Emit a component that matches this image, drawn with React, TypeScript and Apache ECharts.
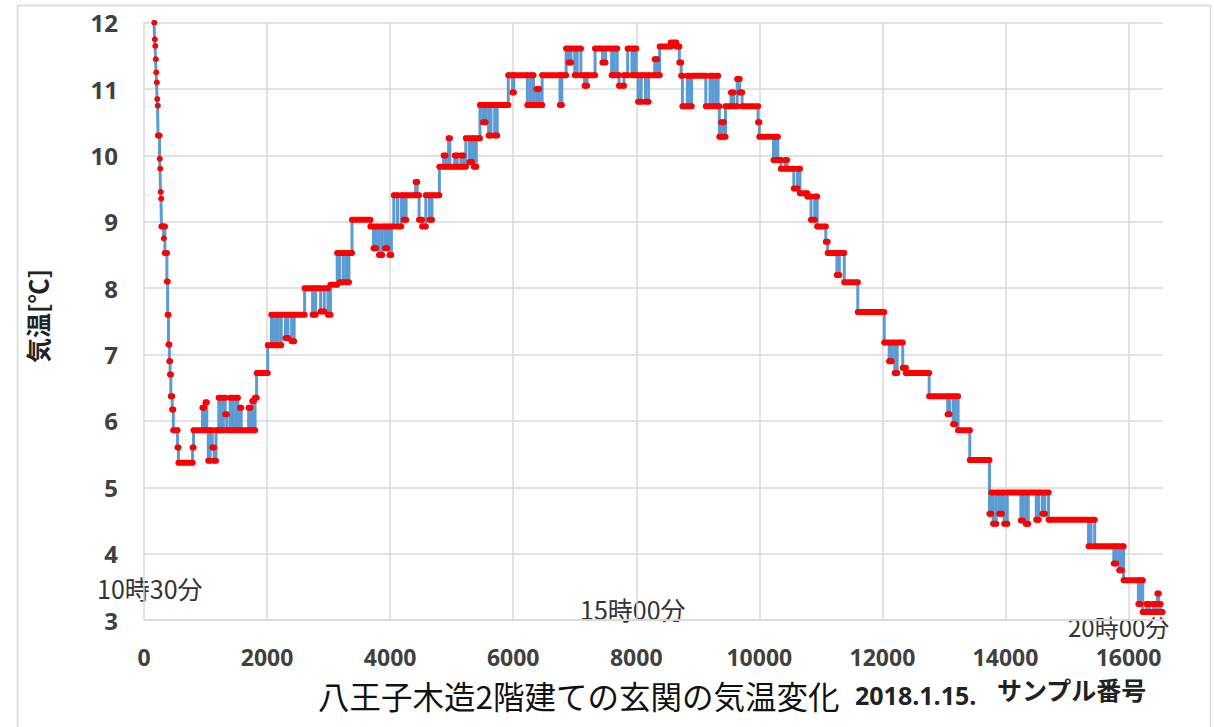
import React, { useEffect, useRef } from "react";
import * as echarts from "echarts";

// x axis (sample number) ticks and y axis (temperature) range
const xGridTicks = [0, 2000, 4000, 6000, 8000, 10000, 12000, 14000, 16000];
const xMax = 16560;
const yMin = 3;
const yMax = 12;
const lastSample = 16553;

// step readings: [sample number where the reading begins, temperature ℃]
const tempSteps: [number, number][] = [
  [163, 12.0], [172, 11.75], [180, 11.65], [188, 11.45], [196, 11.25], [204, 11.1],
  [212, 10.85], [220, 10.75], [228, 10.3], [252, 9.95], [260, 9.8], [268, 9.45],
  [276, 9.35], [284, 8.93], [318, 8.75], [326, 8.93], [340, 8.53], [372, 8.1],
  [384, 7.6], [398, 7.15], [412, 6.9], [424, 6.7], [436, 6.37], [458, 6.17],
  [476, 5.86], [545, 5.6], [560, 5.37], [790, 5.6], [805, 5.86], [950, 6.2],
  [975, 5.86], [1000, 6.28], [1020, 5.86], [1045, 5.4], [1075, 5.86], [1110, 5.6],
  [1140, 5.4], [1170, 5.86], [1215, 6.35], [1245, 5.86], [1290, 6.35], [1320, 6.1],
  [1345, 5.86], [1400, 6.35], [1440, 5.86], [1490, 6.35], [1525, 5.86], [1560, 6.2],
  [1580, 5.86], [1700, 6.2], [1730, 5.86], [1760, 6.3], [1785, 5.86], [1805, 6.35],
  [1830, 6.72], [2010, 7.14], [2070, 7.6], [2100, 7.14], [2150, 7.6], [2180, 7.14],
  [2230, 7.6], [2300, 7.25], [2340, 7.6], [2400, 7.2], [2440, 7.6], [2610, 8.0],
  [2740, 7.6], [2790, 8.0], [2870, 7.65], [2930, 8.0], [2990, 7.6], [3030, 8.05],
  [3140, 8.53], [3180, 8.09], [3240, 8.53], [3290, 8.09], [3330, 8.53], [3380, 9.03],
  [3680, 8.93], [3730, 8.6], [3770, 8.93], [3820, 8.5], [3870, 8.93], [3920, 8.6],
  [3950, 8.93], [3990, 8.5], [4020, 8.93], [4060, 9.4], [4120, 8.93], [4180, 9.4],
  [4220, 9.03], [4260, 9.4], [4415, 9.6], [4440, 9.4], [4470, 9.03], [4520, 8.93],
  [4580, 9.4], [4640, 9.03], [4680, 9.4], [4800, 9.83], [4870, 10.0], [4900, 9.83],
  [4950, 10.26], [4970, 9.83], [5050, 10.0], [5090, 9.83], [5150, 10.0], [5190, 9.83],
  [5230, 10.26], [5290, 9.9], [5330, 10.26], [5360, 9.83], [5400, 10.26], [5460, 10.76],
  [5510, 10.5], [5550, 10.76], [5600, 10.3], [5640, 10.76], [5700, 10.3], [5740, 10.76],
  [5920, 11.21], [5990, 10.95], [6010, 11.21], [6230, 10.76], [6280, 11.21], [6330, 10.76],
  [6380, 11.0], [6420, 10.76], [6470, 11.21], [6760, 10.76], [6790, 11.21], [6860, 11.61],
  [6900, 11.4], [6940, 11.61], [7000, 11.21], [7040, 11.61], [7100, 11.21], [7160, 11.05],
  [7200, 11.21], [7330, 11.61], [7450, 11.4], [7500, 11.61], [7600, 11.21], [7640, 11.61],
  [7690, 11.21], [7720, 11.05], [7800, 11.21], [7860, 11.61], [7930, 11.21], [7960, 11.61],
  [8000, 11.21], [8030, 10.81], [8080, 11.21], [8150, 10.81], [8200, 11.21], [8300, 11.45],
  [8340, 11.21], [8380, 11.64], [8560, 11.7], [8650, 11.64], [8700, 11.4], [8730, 11.2],
  [8750, 10.74], [8830, 11.2], [8860, 10.74], [8900, 11.2], [9130, 10.74], [9200, 11.2],
  [9250, 10.74], [9300, 11.2], [9330, 10.74], [9350, 10.28], [9380, 10.5], [9420, 10.28],
  [9450, 10.74], [9540, 10.95], [9580, 10.74], [9640, 11.15], [9680, 10.95], [9720, 10.74],
  [9980, 10.5], [10000, 10.28], [10230, 9.93], [10260, 10.28], [10300, 9.93], [10350, 9.8],
  [10420, 9.93], [10450, 9.8], [10560, 9.5], [10620, 9.8], [10660, 9.43], [10780, 9.38],
  [10840, 9.03], [10900, 9.38], [10940, 8.93], [11080, 8.7], [11110, 8.53], [11260, 8.2],
  [11300, 8.53], [11380, 8.09], [11600, 7.64], [12030, 7.18], [12110, 6.9], [12150, 7.18],
  [12200, 6.72], [12240, 7.18], [12330, 6.8], [12380, 6.72], [12760, 6.37], [13060, 6.1],
  [13090, 6.37], [13150, 5.95], [13180, 6.37], [13230, 5.86], [13420, 5.41], [13740, 4.6],
  [13770, 4.92], [13800, 4.45], [13850, 4.92], [13900, 4.6], [13940, 4.92], [13980, 4.45],
  [14030, 4.92], [14250, 4.5], [14280, 4.92], [14330, 4.45], [14370, 4.92], [14500, 4.51],
  [14540, 4.92], [14600, 4.6], [14640, 4.92], [14700, 4.51], [15350, 4.11], [15390, 4.51],
  [15450, 4.11], [15760, 3.85], [15800, 4.11], [15850, 3.75], [15890, 4.11], [15920, 3.6],
  [16160, 3.24], [16190, 3.6], [16230, 3.12], [16290, 3.24], [16340, 3.12], [16400, 3.24],
  [16440, 3.12], [16470, 3.4], [16490, 3.24], [16520, 3.12],
];

const titleText = "八王子木造2階建ての玄関の気温変化";
const dateText = "2018.1.15.";
const xName = "サンプル番号";
const yName = "気温[℃]";
const timeNotes = ["10時30分", "15時00分", "20時00分"];

const JP = '"Noto Sans CJK JP", sans-serif';
const NUM = '"Open Sans", "Liberation Sans", sans-serif';

export default function App() {
  const ref = useRef<HTMLDivElement>(null);
  useEffect(() => {
    if (!ref.current) return;
    const chart = echarts.init(ref.current, null, { renderer: "svg" });

    const blueData: any[] = tempSteps.map((p) => [p[0], p[1]]);
    blueData.push([lastSample, tempSteps[tempSteps.length - 1][1]]);

    const redData: any[] = [];
    tempSteps.forEach((p, i) => {
      const next = i + 1 < tempSteps.length ? tempSteps[i + 1][0] : lastSample;
      redData.push([p[0], p[1]]);
      redData.push([next, p[1]]);
      redData.push([next, "-"]);
    });

    const option: any = {
      animation: false,
      backgroundColor: "#ffffff",
      grid: { left: 144, top: 22.7, right: 51, bottom: 107, containLabel: false },
      xAxis: {
        type: "value",
        min: 0,
        max: xMax,
        interval: 2000,
        axisLine: { show: true, lineStyle: { color: "#d9d9d9", width: 1.5 } },
        axisTick: { show: false },
        splitLine: { show: false },
        axisLabel: {
          margin: 27,
          color: "#404040",
          fontFamily: NUM,
          fontWeight: "bold",
          fontSize: 23,
          lineHeight: 20,
          formatter: (v: number) => (xGridTicks.indexOf(v) >= 0 ? String(v) : ""),
        },
      },
      yAxis: {
        type: "value",
        min: yMin,
        max: yMax,
        interval: 1,
        axisLine: { show: false },
        axisTick: { show: false },
        splitLine: { show: true, lineStyle: { color: "#d9d9d9", width: 1.5 } },
        axisLabel: {
          margin: 26,
          color: "#404040",
          fontFamily: NUM,
          fontWeight: "bold",
          fontSize: 24,
          lineHeight: 18,
        },
      },
      series: [
        {
          type: "line",
          name: "grid",
          data: [],
          z: 0,
          silent: true,
          markLine: {
            silent: true,
            z: 0,
            symbol: ["none", "none"],
            label: { show: false },
            lineStyle: { color: "#d9d9d9", width: 1.5, type: "solid" },
            data: xGridTicks.map((v) => ({ xAxis: v })),
          },
        },
        {
          type: "line",
          name: "line",
          data: blueData,
          step: "end",
          showSymbol: false,
          symbol: "none",
          z: 2,
          silent: true,
          lineStyle: { color: "#5B9BD5", width: 3 },
        },
        {
          type: "line",
          name: "marker",
          data: redData,
          connectNulls: false,
          showSymbol: true,
          showAllSymbol: true,
          symbol: "circle",
          symbolSize: 5.5,
          clip: false,
          silent: true,
          z: 3,
          itemStyle: { color: "#FF0000", borderWidth: 0 },
          lineStyle: { color: "#FF0000", width: 6, cap: "round" },
        },
      ],
      graphic: [
        {
          type: "rect",
          silent: true,
          z: -10,
          shape: { x: 17.5, y: 5.5, width: 1193, height: 760 },
          style: { fill: "none", stroke: "#d9d9d9", lineWidth: 1.5 },
        },
        {
          type: "text",
          x: 37,
          y: 316,
          rotation: Math.PI / 2,
          style: {
            text: yName,
            font: `bold 25px ${JP}`,
            fill: "#222",
            align: "center",
            verticalAlign: "middle",
          },
        },
        {
          type: "text",
          x: 97,
          y: 588,
          style: { text: timeNotes[0], font: `25px ${JP}`, lineHeight: 19, fill: "#333", align: "left", verticalAlign: "middle" },
        },
        {
          type: "text",
          x: 580,
          y: 609,
          style: { text: timeNotes[1], font: `25px ${JP}`, lineHeight: 19, fill: "#333", align: "left", verticalAlign: "middle" },
        },
        {
          type: "text",
          x: 1068,
          y: 626,
          style: { text: timeNotes[2], font: `24px ${JP}`, lineHeight: 19, fill: "#333", align: "left", verticalAlign: "middle" },
        },
        {
          type: "text",
          x: 318,
          y: 695,
          style: { text: titleText, font: `31.5px ${JP}`, lineHeight: 26, fill: "#111", align: "left", verticalAlign: "middle" },
        },
        {
          type: "text",
          x: 855,
          y: 695,
          style: { text: dateText, font: `bold 25px ${NUM}`, lineHeight: 22, fill: "#222", align: "left", verticalAlign: "middle" },
        },
        {
          type: "text",
          x: 997,
          y: 689,
          style: { text: xName, font: `bold 25px ${JP}`, lineHeight: 20, fill: "#222", align: "left", verticalAlign: "middle" },
        },
      ],
    };
    chart.setOption(option);
    return () => chart.dispose();
  }, []);

  return (
    <div
      ref={ref}
      style={{ position: "fixed", left: 0, top: 0, width: 1214, height: 727, background: "#fff" }}
    />
  );
}
